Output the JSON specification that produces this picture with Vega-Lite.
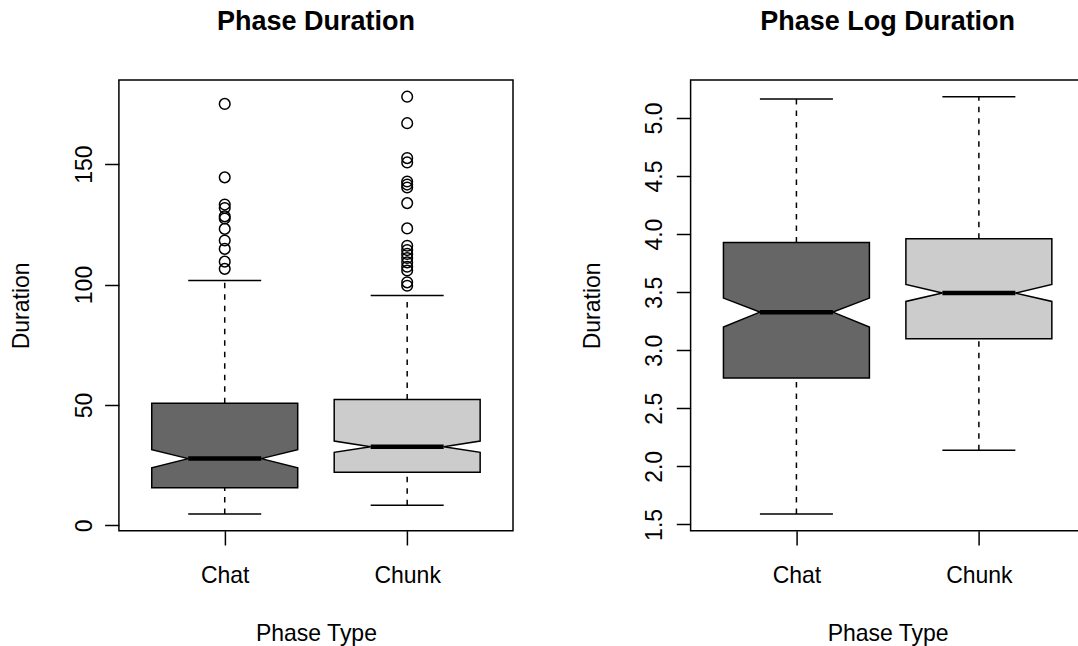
{
  "$schema": "https://vega.github.io/schema/vega-lite/v6.json",
  "autosize": {"type": "none"},
  "padding": {"left": 118.9, "top": 80, "right": 959.1, "bottom": 566},
  "background": "white",
  "datasets": {
    "boxes": [
      {"panel": "Duration", "group": "Chat", "pos": 1, "lo": 4.7, "q1": 15.6, "med": 27.7, "q3": 50.7, "hi": 101.7},
      {"panel": "Duration", "group": "Chunk", "pos": 2, "lo": 8.3, "q1": 22.0, "med": 32.6, "q3": 52.3, "hi": 95.4},
      {"panel": "LogDuration", "group": "Chat", "pos": 1, "lo": 1.59, "q1": 2.761, "med": 3.328, "q3": 3.928, "hi": 5.163},
      {"panel": "LogDuration", "group": "Chunk", "pos": 2, "lo": 2.139, "q1": 3.099, "med": 3.492, "q3": 3.959, "hi": 5.183}
    ],
    "outline": [
      {"panel": "Duration", "group": "Chat", "stat": "q1", "value": 15.6, "x0": 0.6, "x1": 1.4},
      {"panel": "Duration", "group": "Chat", "stat": "notch_lo", "value": 23.9, "x0": 0.6, "x1": 1.4},
      {"panel": "Duration", "group": "Chat", "stat": "median", "value": 27.7, "x0": 0.8, "x1": 1.2},
      {"panel": "Duration", "group": "Chat", "stat": "notch_hi", "value": 31.4, "x0": 0.6, "x1": 1.4},
      {"panel": "Duration", "group": "Chat", "stat": "q3", "value": 50.7, "x0": 0.6, "x1": 1.4},
      {"panel": "Duration", "group": "Chunk", "stat": "q1", "value": 22.0, "x0": 1.6, "x1": 2.4},
      {"panel": "Duration", "group": "Chunk", "stat": "notch_lo", "value": 30.3, "x0": 1.6, "x1": 2.4},
      {"panel": "Duration", "group": "Chunk", "stat": "median", "value": 32.6, "x0": 1.8, "x1": 2.2},
      {"panel": "Duration", "group": "Chunk", "stat": "notch_hi", "value": 35.0, "x0": 1.6, "x1": 2.4},
      {"panel": "Duration", "group": "Chunk", "stat": "q3", "value": 52.3, "x0": 1.6, "x1": 2.4},
      {"panel": "LogDuration", "group": "Chat", "stat": "q1", "value": 2.761, "x0": 0.6, "x1": 1.4},
      {"panel": "LogDuration", "group": "Chat", "stat": "notch_lo", "value": 3.199, "x0": 0.6, "x1": 1.4},
      {"panel": "LogDuration", "group": "Chat", "stat": "median", "value": 3.328, "x0": 0.8, "x1": 1.2},
      {"panel": "LogDuration", "group": "Chat", "stat": "notch_hi", "value": 3.449, "x0": 0.6, "x1": 1.4},
      {"panel": "LogDuration", "group": "Chat", "stat": "q3", "value": 3.928, "x0": 0.6, "x1": 1.4},
      {"panel": "LogDuration", "group": "Chunk", "stat": "q1", "value": 3.099, "x0": 1.6, "x1": 2.4},
      {"panel": "LogDuration", "group": "Chunk", "stat": "notch_lo", "value": 3.42, "x0": 1.6, "x1": 2.4},
      {"panel": "LogDuration", "group": "Chunk", "stat": "median", "value": 3.492, "x0": 1.8, "x1": 2.2},
      {"panel": "LogDuration", "group": "Chunk", "stat": "notch_hi", "value": 3.566, "x0": 1.6, "x1": 2.4},
      {"panel": "LogDuration", "group": "Chunk", "stat": "q3", "value": 3.959, "x0": 1.6, "x1": 2.4}
    ],
    "outliers": [
      {"group": "Chat", "pos": 1, "value": 175.0},
      {"group": "Chat", "pos": 1, "value": 144.5},
      {"group": "Chat", "pos": 1, "value": 133.2},
      {"group": "Chat", "pos": 1, "value": 131.8},
      {"group": "Chat", "pos": 1, "value": 128.3},
      {"group": "Chat", "pos": 1, "value": 127.4},
      {"group": "Chat", "pos": 1, "value": 123.1},
      {"group": "Chat", "pos": 1, "value": 118.3},
      {"group": "Chat", "pos": 1, "value": 114.8},
      {"group": "Chat", "pos": 1, "value": 109.5},
      {"group": "Chat", "pos": 1, "value": 106.5},
      {"group": "Chunk", "pos": 2, "value": 178.0},
      {"group": "Chunk", "pos": 2, "value": 167.0},
      {"group": "Chunk", "pos": 2, "value": 152.5},
      {"group": "Chunk", "pos": 2, "value": 150.7},
      {"group": "Chunk", "pos": 2, "value": 142.8},
      {"group": "Chunk", "pos": 2, "value": 141.5},
      {"group": "Chunk", "pos": 2, "value": 140.3},
      {"group": "Chunk", "pos": 2, "value": 133.8},
      {"group": "Chunk", "pos": 2, "value": 123.3},
      {"group": "Chunk", "pos": 2, "value": 116.1},
      {"group": "Chunk", "pos": 2, "value": 114.3},
      {"group": "Chunk", "pos": 2, "value": 112.7},
      {"group": "Chunk", "pos": 2, "value": 111.0},
      {"group": "Chunk", "pos": 2, "value": 109.2},
      {"group": "Chunk", "pos": 2, "value": 107.4},
      {"group": "Chunk", "pos": 2, "value": 105.8},
      {"group": "Chunk", "pos": 2, "value": 100.9},
      {"group": "Chunk", "pos": 2, "value": 99.5}
    ]
  },
  "spacing": 176.7,
  "bounds": "flush",
  "hconcat": [
    {
      "width": 394.1,
      "height": 450.7,
      "title": {"text": "Phase Duration"},
      "encoding": {
        "x": {"type": "quantitative", "title": "Phase Type",
              "scale": {"domain": [0.42, 2.58], "nice": false, "zero": false},
              "axis": {"values": [1, 2], "labelExpr": "datum.value == 1 ? 'Chat' : 'Chunk'"}},
        "y": {"type": "quantitative", "title": "Duration",
              "scale": {"domain": [-2.23, 184.93], "nice": false, "zero": false},
              "axis": {"values": [0, 50, 100, 150], "labelPadding": 13.3, "titleX": -90}}
      },
      "layer": [
        {
          "data": {"name": "boxes"},
          "transform": [{"filter": "datum.panel == 'Duration'"}],
          "mark": {"type": "rule", "strokeDash": [5.5, 6], "strokeWidth": 1.5, "color": "black"},
          "encoding": {"x": {"field": "pos"}, "y": {"field": "q3"}, "y2": {"field": "hi"}}
        },
        {
          "data": {"name": "boxes"},
          "transform": [{"filter": "datum.panel == 'Duration'"}],
          "mark": {"type": "rule", "strokeDash": [5.5, 6], "strokeWidth": 1.5, "color": "black"},
          "encoding": {"x": {"field": "pos"}, "y": {"field": "lo"}, "y2": {"field": "q1"}}
        },
        {
          "data": {"name": "boxes"},
          "transform": [{"filter": "datum.panel == 'Duration'"}, {"fold": ["lo", "hi"], "as": ["stat", "value"]}],
          "mark": {"type": "tick", "orient": "horizontal", "size": 73, "thickness": 1.5, "color": "black", "opacity": 1},
          "encoding": {"x": {"field": "pos"}, "y": {"field": "value"}}
        },
        {
          "data": {"name": "outline"},
          "transform": [{"filter": "datum.panel == 'Duration'"}],
          "mark": {"type": "area", "orient": "horizontal", "stroke": "black", "strokeWidth": 1.5, "opacity": 1},
          "encoding": {
            "x": {"field": "x0"},
            "x2": {"field": "x1"},
            "y": {"field": "value"},
            "color": {"field": "group", "type": "nominal", "legend": null,
                      "scale": {"domain": ["Chat", "Chunk"], "range": ["#666666", "#cccccc"]}}
          }
        },
        {
          "data": {"name": "boxes"},
          "transform": [{"filter": "datum.panel == 'Duration'"}],
          "mark": {"type": "tick", "orient": "horizontal", "size": 73, "thickness": 4.5, "color": "black", "opacity": 1},
          "encoding": {"x": {"field": "pos"}, "y": {"field": "med"}}
        },
        {
          "data": {"name": "outliers"},
          "mark": {"type": "point", "shape": "circle", "filled": false, "color": "black", "strokeWidth": 1.5, "size": 113, "opacity": 1},
          "encoding": {"x": {"field": "pos"}, "y": {"field": "value"}}
        }
      ]
    },
    {
      "width": 394.1,
      "height": 450.7,
      "title": {"text": "Phase Log Duration"},
      "encoding": {
        "x": {"type": "quantitative", "title": "Phase Type",
              "scale": {"domain": [0.42, 2.58], "nice": false, "zero": false},
              "axis": {"values": [1, 2], "labelExpr": "datum.value == 1 ? 'Chat' : 'Chunk'"}},
        "y": {"type": "quantitative", "title": "Duration",
              "scale": {"domain": [1.446, 5.327], "nice": false, "zero": false},
              "axis": {"values": [1.5, 2, 2.5, 3, 3.5, 4, 4.5, 5], "format": ".1f", "labelPadding": 15, "titleX": -91.4}}
      },
      "layer": [
        {
          "data": {"name": "boxes"},
          "transform": [{"filter": "datum.panel == 'LogDuration'"}],
          "mark": {"type": "rule", "strokeDash": [5.5, 6], "strokeWidth": 1.5, "color": "black"},
          "encoding": {"x": {"field": "pos"}, "y": {"field": "q3"}, "y2": {"field": "hi"}}
        },
        {
          "data": {"name": "boxes"},
          "transform": [{"filter": "datum.panel == 'LogDuration'"}],
          "mark": {"type": "rule", "strokeDash": [5.5, 6], "strokeWidth": 1.5, "color": "black"},
          "encoding": {"x": {"field": "pos"}, "y": {"field": "lo"}, "y2": {"field": "q1"}}
        },
        {
          "data": {"name": "boxes"},
          "transform": [{"filter": "datum.panel == 'LogDuration'"}, {"fold": ["lo", "hi"], "as": ["stat", "value"]}],
          "mark": {"type": "tick", "orient": "horizontal", "size": 73, "thickness": 1.5, "color": "black", "opacity": 1},
          "encoding": {"x": {"field": "pos"}, "y": {"field": "value"}}
        },
        {
          "data": {"name": "outline"},
          "transform": [{"filter": "datum.panel == 'LogDuration'"}],
          "mark": {"type": "area", "orient": "horizontal", "stroke": "black", "strokeWidth": 1.5, "opacity": 1},
          "encoding": {
            "x": {"field": "x0"},
            "x2": {"field": "x1"},
            "y": {"field": "value"},
            "color": {"field": "group", "type": "nominal", "legend": null,
                      "scale": {"domain": ["Chat", "Chunk"], "range": ["#666666", "#cccccc"]}}
          }
        },
        {
          "data": {"name": "boxes"},
          "transform": [{"filter": "datum.panel == 'LogDuration'"}],
          "mark": {"type": "tick", "orient": "horizontal", "size": 73, "thickness": 4.5, "color": "black", "opacity": 1},
          "encoding": {"x": {"field": "pos"}, "y": {"field": "med"}}
        }
      ]
    }
  ],
  "config": {
    "font": "Liberation Sans",
    "view": {"stroke": "black", "strokeWidth": 1.5},
    "axis": {
      "domain": false, "grid": false,
      "tickColor": "black", "tickWidth": 1.5, "tickSize": 14.3,
      "labelColor": "black", "labelFont": "Liberation Sans", "labelFontSize": 23,
      "labelOverlap": false, "labelFlush": false,
      "titleColor": "black", "titleFont": "Liberation Sans", "titleFontSize": 23, "titleFontWeight": "normal"
    },
    "axisX": {"labelBaseline": "alphabetic", "labelAlign": "center", "labelPadding": 37.3, "titleBaseline": "alphabetic", "titleY": 109.5, "titleAlign": "center"},
    "axisY": {"labelAngle": 270, "labelAlign": "center", "labelBaseline": "alphabetic", "titleAngle": 270, "titleBaseline": "alphabetic", "titleAlign": "center", "titleY": 225.35},
    "title": {"fontSize": 27, "fontWeight": "bold", "font": "Liberation Sans", "color": "black", "offset": 44, "baseline": "alphabetic", "frame": "group", "anchor": "middle"}
  }
}
